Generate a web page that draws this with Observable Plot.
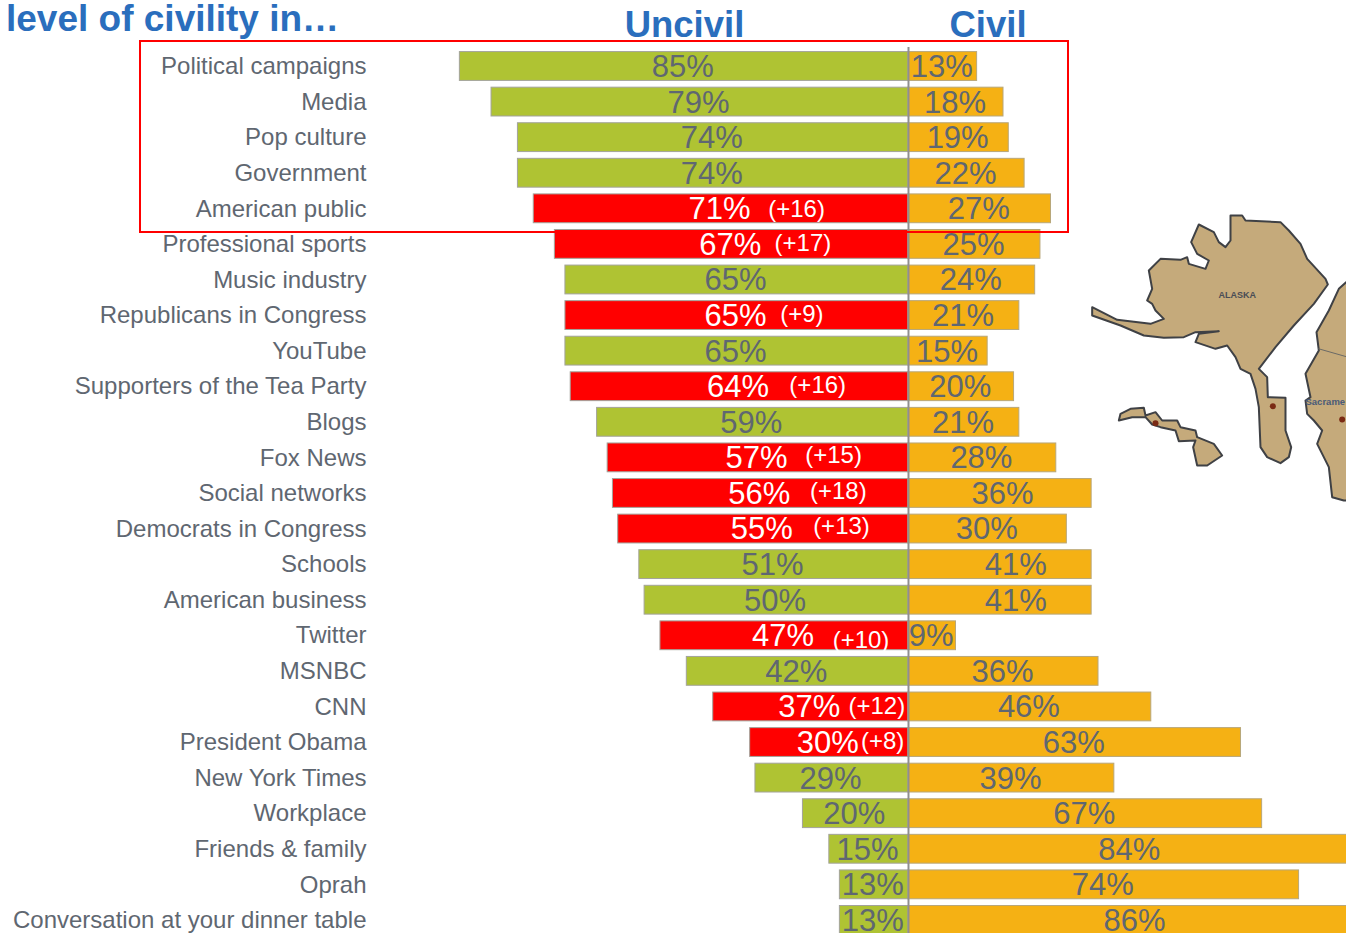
<!DOCTYPE html>
<html>
<head>
<meta charset="utf-8">
<script src="https://cdn.jsdelivr.net/npm/d3@7"></script>
<script src="https://cdn.jsdelivr.net/npm/@observablehq/plot@0.6"></script>
<style>
html,body{margin:0;padding:0;background:#fff;overflow:hidden}
svg{display:block;overflow:hidden}
</style>
</head>
<body>
<div id="chart"></div>
<script>
const title = "level of civility in…";
const categories = ["Political campaigns","Media","Pop culture","Government","American public","Professional sports","Music industry","Republicans in Congress","YouTube","Supporters of the Tea Party","Blogs","Fox News","Social networks","Democrats in Congress","Schools","American business","Twitter","MSNBC","CNN","President Obama","New York Times","Workplace","Friends & family","Oprah","Conversation at your dinner table"];
const uncivil = [85,79,74,74,71,67,65,65,65,64,59,57,56,55,51,50,47,42,37,30,29,20,15,13,13];
const civil = [13,18,19,22,27,25,24,21,15,20,21,28,36,30,41,41,9,36,46,63,39,67,84,74,86];
// Drawn length of the Civil bars: three bars in the picture are shorter than their printed number
const civilDrawn = [13,18,19,22,27,25,24,21,15,20,21,28,34.7,30,34.7,34.7,9,36,46,63,39,67,84,74,86];
const changeTerms = ["American public","Professional sports","Republicans in Congress","Supporters of the Tea Party","Fox News","Social networks","Democrats in Congress","Twitter","CNN","President Obama"];
const changes = ["(+16)","(+17)","(+9)","(+16)","(+15)","(+18)","(+13)","(+10)","(+12)","(+8)"];
const changeAt = [-21.2,-20,-20.2,-17.2,-14.2,-13.3,-12.7,-9,-6,-4.9];
const changeShift = [0,-0.03,-0.03,-0.03,-0.08,-0.05,-0.08,0.14,-0.03,-0.03];
const alaska = [[450,45],[485,45],[495,60],[600,65],[625,90],[660,130],[680,175],[735,235],[742,252],[700,310],[640,375],[585,440],[535,505],[560,530],[562,590],[615,592],[615,690],[632,740],[625,770],[600,788],[560,770],[540,740],[535,620],[525,565],[510,520],[480,505],[465,470],[440,435],[405,445],[345,425],[355,400],[415,392],[345,395],[310,410],[250,412],[190,405],[120,375],[35,345],[35,320],[110,358],[210,370],[250,355],[225,330],[215,310],[200,300],[215,265],[205,210],[240,175],[300,178],[320,170],[325,190],[375,205],[385,180],[350,160],[332,125],[355,72],[400,95],[415,125],[435,140],[450,120],[450,45]];
const hawaii = [[115,660],[120,640],[150,625],[190,622],[195,645],[225,635],[245,660],[290,660],[300,680],[345,690],[350,710],[400,730],[425,765],[380,795],[350,795],[338,740],[345,720],[295,722],[285,690],[240,680],[215,672],[195,650],[155,650],[115,660]];
const mainland = [[820,225],[775,265],[745,330],[708,395],[715,450],[675,520],[690,590],[675,600],[680,640],[700,660],[725,690],[710,730],[745,800],[755,890],[790,900],[820,900],[820,225]];
const stateLine = [[715,445],[820,475]];
const cities = [[577,617],[225,668],[785,657]];

// Layout
const W = 1346, H = 933, zeroX = 908, pxPerPct = 5.278, firstRow = 66, rowStep = 35.58;
const px2x = p => (p - zeroX) / pxPerPct;
const px2y = p => (p - firstRow) / rowStep;
const mapX = z => px2x(1080 + z / 3);
const mapY = z => px2y(200 + z / 3);
const mapOpts = {x: d => mapX(d[0]), y: d => mapY(d[1]), z: null};

const rows = categories.map((term, i) => ({
  term, i,
  uncivil: uncivil[i], civil: civil[i], civilDrawn: civilDrawn[i],
  worse: changeTerms.includes(term)
}));
const changeRows = changeTerms.map((term, k) => ({
  label: changes[k], at: changeAt[k], r: categories.indexOf(term) + changeShift[k]
}));

const grey = "#5f6771", blue = "#2a6ebd", sans = "'Liberation Sans', Arial, sans-serif";
const half = 0.405;

const plot = Plot.plot({
  width: W, height: H,
  marginTop: 0, marginRight: 0, marginBottom: 0, marginLeft: 0,
  style: {background: "#fff", fontFamily: sans, overflow: "hidden"},
  x: {domain: [px2x(0), px2x(W)], range: [0, W], axis: null},
  y: {domain: [px2y(0), px2y(H)], range: [0, H], axis: null},
  marks: [
    // map
    Plot.line(mainland, {...mapOpts, fill: "#c5aa7b", stroke: "#3f4145", strokeWidth: 2, clip: true}),
    Plot.line(stateLine, {...mapOpts, stroke: "#6b6a66", strokeWidth: 1, clip: true}),
    Plot.line(alaska, {...mapOpts, fill: "#c5aa7b", stroke: "#3f4145", strokeWidth: 2}),
    Plot.line(hawaii, {...mapOpts, fill: "#c5aa7b", stroke: "#3f4145", strokeWidth: 2}),
    Plot.dot(cities, {x: d => mapX(d[0]), y: d => mapY(d[1]), r: 3, fill: "#7a2a14"}),
    Plot.text(["ALASKA"], {x: mapX(470), y: mapY(283), text: d => d, fontSize: 9, fontWeight: "bold", fill: "#4a4d55"}),
    Plot.text(["Sacrame"], {x: mapX(675), y: mapY(605), text: d => d, textAnchor: "start", fontSize: 9.5, fontWeight: "bold", fill: "#4a5a78"}),
    // bars
    Plot.rect(rows, {x1: d => -d.uncivil, x2: 0, y1: d => d.i - half, y2: d => d.i + half,
      fill: d => d.worse ? "#ff0000" : "#afc333", stroke: "#a3a39b", strokeWidth: 1, clip: true}),
    Plot.rect(rows, {x1: 0, x2: d => d.civilDrawn, y1: d => d.i - half, y2: d => d.i + half,
      fill: "#f5b114", stroke: "#b8a77a", strokeWidth: 1, clip: true}),
    Plot.ruleX([0], {y1: px2y(47), y2: px2y(H), stroke: "#8f8f8f", strokeWidth: 2}),
    // red box around the top five
    Plot.rect([0], {x1: px2x(140), x2: px2x(1068), y1: px2y(41), y2: px2y(232), fill: "none", stroke: "#ff0000", strokeWidth: 2}),
    // row labels
    Plot.text(rows, {x: px2x(366), y: "i", text: "term", textAnchor: "end", fontSize: 24, fill: grey}),
    // values
    Plot.text(rows, {x: d => -d.uncivil / 2, y: "i", text: d => d.uncivil + "%", fontSize: 31, dx: -1.5, dy: 0.5,
      fill: d => d.worse ? "#fff" : grey}),
    Plot.text(rows, {x: d => d.civil / 2, y: "i", text: d => d.civil + "%", fontSize: 31, dx: -1, dy: 0.5, fill: grey}),
    Plot.text(changeRows, {x: "at", y: "r", text: "label", fontSize: 24, fill: "#fff"}),
    // headers
    Plot.text([title], {x: px2x(5.5), y: px2y(18.5), text: d => d, textAnchor: "start", fontSize: 37, fontWeight: "bold", fill: blue}),
    Plot.text(["Uncivil"], {x: px2x(684), y: px2y(25), text: d => d, fontSize: 36.5, fontWeight: "bold", fill: blue}),
    Plot.text(["Civil"], {x: px2x(987.5), y: px2y(25), text: d => d, fontSize: 36.5, fontWeight: "bold", fill: blue})
  ]
});
document.getElementById("chart").appendChild(plot);
</script>
</body>
</html>
